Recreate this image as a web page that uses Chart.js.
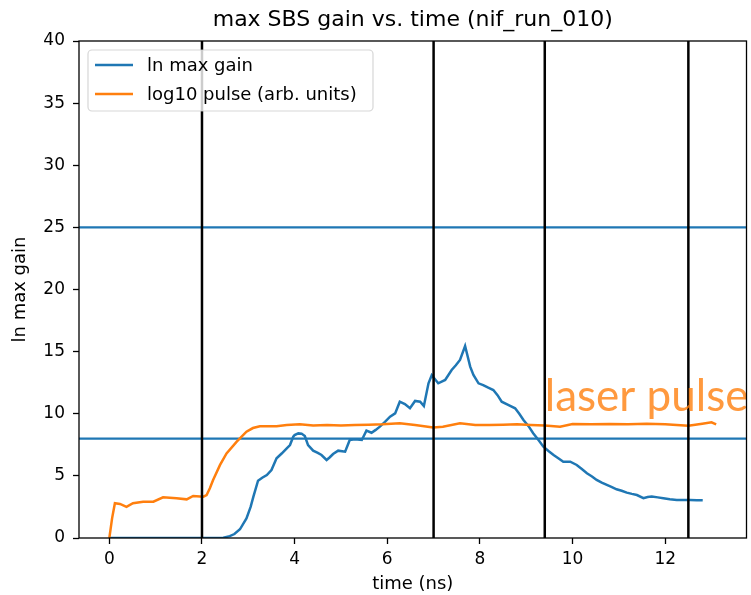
<!DOCTYPE html>
<html>
<head>
<meta charset="utf-8">
<script src="https://cdn.jsdelivr.net/npm/chart.js@4.4.1/dist/chart.umd.min.js"></script>
<style>
  html, body { margin: 0; padding: 0; background: #fff; }
  #wrap { width: 751px; height: 595px; }
</style>
</head>
<body>
<div id="wrap"><canvas id="gainChart" width="751" height="595"></canvas></div>
<script>
// ln max gain trace
const gainTime = [0, 0.5, 1.0, 1.5, 2.0, 2.3, 2.46, 2.6, 2.7, 2.82, 2.96, 3.05, 3.11, 3.21, 3.3, 3.4, 3.5, 3.61, 3.72, 3.83,
    3.9, 3.97, 4.0, 4.08, 4.15, 4.22, 4.29, 4.4, 4.5, 4.58, 4.69, 4.76, 4.83, 4.94, 5.09, 5.19, 5.3, 5.45, 5.55, 5.66,
    5.75, 5.84, 5.95, 6.06, 6.17, 6.27, 6.38, 6.49, 6.6, 6.71, 6.79, 6.89, 6.96, 7.1, 7.25, 7.39, 7.48, 7.57, 7.68, 7.79,
    7.86, 7.97, 8.07, 8.18, 8.29, 8.38, 8.47, 8.62, 8.76, 8.85, 8.94, 9.05, 9.15, 9.26, 9.37, 9.48, 9.59, 9.7, 9.8, 9.95,
    10.09, 10.2, 10.31, 10.42, 10.52, 10.63, 10.74, 10.85, 10.95, 11.06, 11.17, 11.28, 11.39, 11.53, 11.62, 11.71, 11.84, 11.96, 12.1, 12.25,
    12.4, 12.54, 12.68, 12.81];
const gainValue = [0, 0, 0, 0, 0, 0, 0.03, 0.15, 0.32, 0.7, 1.58, 2.5, 3.33, 4.61, 4.85, 5.07, 5.47, 6.41, 6.8, 7.22,
    7.48, 8.15, 8.29, 8.42, 8.4, 8.2, 7.48, 7.03, 6.85, 6.68, 6.28, 6.5, 6.76, 7.03, 6.95, 7.89, 7.94, 7.89, 8.64, 8.47,
    8.7, 8.96, 9.35, 9.76, 10.03, 10.97, 10.78, 10.44, 11.03, 10.97, 10.62, 12.45, 13.1, 12.45, 12.72, 13.52, 13.9, 14.33, 15.45, 13.79,
    13.12, 12.45, 12.31, 12.1, 11.91, 11.5, 10.97, 10.7, 10.44, 10.0, 9.5, 9.0, 8.43, 7.9, 7.35, 7.0, 6.68, 6.4, 6.14, 6.14,
    5.88, 5.55, 5.21, 4.95, 4.67, 4.45, 4.27, 4.1, 3.92, 3.8, 3.65, 3.55, 3.46, 3.2, 3.3, 3.33, 3.27, 3.2, 3.12, 3.06,
    3.06, 3.06, 3.04, 3.03];

// log10 laser pulse, arbitrary units
const pulseTime = [0, 0.06, 0.12, 0.23, 0.37, 0.51, 0.73, 0.95, 1.16, 1.45, 1.67, 1.81, 2.03, 2.1, 2.17, 2.24, 2.39, 2.53, 2.75, 2.96,
    3.1, 3.25, 3.61, 3.83, 4.11, 4.4, 4.7, 5.0, 5.3, 5.6, 5.9, 6.27, 6.6, 6.99, 7.2, 7.57, 7.9, 8.2, 8.5, 8.8,
    9.1, 9.4, 9.73, 10.0, 10.4, 10.8, 11.2, 11.6, 12.0, 12.5, 12.8, 13.0, 13.1];
const pulseValue = [0, 1.6, 2.8, 2.74, 2.5, 2.8, 2.92, 2.92, 3.27, 3.2, 3.11, 3.38, 3.33, 3.46, 4.0, 4.67, 5.88, 6.81, 7.75, 8.56,
    8.85, 9.0, 9.0, 9.1, 9.15, 9.05, 9.1, 9.05, 9.1, 9.12, 9.15, 9.23, 9.1, 8.9, 8.95, 9.23, 9.1, 9.1, 9.12, 9.15,
    9.1, 9.05, 8.96, 9.17, 9.15, 9.18, 9.15, 9.2, 9.15, 9.04, 9.2, 9.31, 9.15];

// reference markers
const hLines = [25, 8];
const vLines = [2, 7, 9.4, 12.5];

const xTicks = [0, 2, 4, 6, 8, 10, 12];
const yTicks = [0, 5, 10, 15, 20, 25, 30, 35, 40];
const xRange = [-0.655, 13.755];
const yRange = [0, 40];

const seriesNames = ['ln max gain', 'log10 pulse (arb. units)'];
const annotation = { x: 9.4, y: 10.2, text: 'laser pulse' };

const BLUE = '#1f77b4';
const ORANGE = '#ff7f0e';
const FONT = '"DejaVu Sans", sans-serif';

function toPoints(xs, ys) {
    return xs.map((x, i) => ({ x: x, y: ys[i] }));
}

const datasets = [];
vLines.forEach(v => datasets.push({
    data: [{ x: v, y: yRange[0] }, { x: v, y: yRange[1] }],
    borderColor: '#000', borderWidth: 2.5, order: 0
}));
datasets.push({ label: seriesNames[1], data: toPoints(pulseTime, pulseValue), borderColor: ORANGE, borderWidth: 2.5, order: 1 });
datasets.push({ label: seriesNames[0], data: toPoints(gainTime, gainValue), borderColor: BLUE, borderWidth: 2.5, order: 2 });
hLines.forEach(h => datasets.push({
    data: [{ x: xRange[0], y: h }, { x: xRange[1], y: h }],
    borderColor: BLUE, borderWidth: 2.2, order: 3
}));

// frame, text label and legend box drawn on top of the plot
const overlay = {
    id: 'overlay',
    afterDatasetsDraw(chart) {
        const { ctx, chartArea: a, scales } = chart;
        ctx.save();

        ctx.font = '44px Lato, sans-serif';
        ctx.fillStyle = 'rgba(255,127,14,0.8)';
        ctx.textBaseline = 'alphabetic';
        ctx.fillText(annotation.text, scales.x.getPixelForValue(annotation.x), scales.y.getPixelForValue(annotation.y));

        ctx.strokeStyle = '#000';
        ctx.lineWidth = 1.3;
        ctx.strokeRect(a.left, a.top, a.right - a.left, a.bottom - a.top);

        // legend
        const bx = a.left + 9, by = a.top + 9, bw = 285, bh = 61;
        ctx.beginPath();
        ctx.roundRect(bx, by, bw, bh, 4);
        ctx.fillStyle = 'rgba(255,255,255,0.8)';
        ctx.fill();
        ctx.strokeStyle = 'rgba(204,204,204,0.8)';
        ctx.lineWidth = 1.2;
        ctx.stroke();

        const colors = [BLUE, ORANGE];
        ctx.font = '18px ' + FONT;
        ctx.textBaseline = 'middle';
        seriesNames.forEach((name, i) => {
            const y = by + 15 + i * 29;
            ctx.beginPath();
            ctx.moveTo(bx + 7, y);
            ctx.lineTo(bx + 45, y);
            ctx.strokeStyle = colors[i];
            ctx.lineWidth = 2.5;
            ctx.stroke();
            ctx.fillStyle = '#000';
            ctx.fillText(name, bx + 59, y + 1);
        });
        ctx.restore();
    }
};

new Chart(document.getElementById('gainChart'), {
    type: 'line',
    data: { datasets: datasets },
    plugins: [overlay],
    options: {
        responsive: false,
        animation: false,
        devicePixelRatio: 1,
        layout: { padding: { left: 0, right: 4.5, top: 0, bottom: 0 } },
        elements: { point: { radius: 0 }, line: { tension: 0, fill: false } },
        plugins: {
            legend: { display: false },
            tooltip: { enabled: false },
            title: {
                display: true,
                fullSize: false,
                text: 'max SBS gain vs. time (nif_run_010)',
                color: '#000',
                font: { family: FONT, size: 22, weight: 'normal' },
                padding: { top: 7, bottom: 7.6 }
            }
        },
        scales: {
            x: {
                type: 'linear',
                min: xRange[0], max: xRange[1],
                afterBuildTicks: s => { s.ticks = xTicks.map(v => ({ value: v })); },
                afterFit: s => { s.height = 57; },
                ticks: { color: '#000', font: { family: FONT, size: 17 }, padding: 5, maxRotation: 0 },
                grid: { drawOnChartArea: false, drawTicks: true, tickLength: 6, tickColor: '#000', tickWidth: 1.3 },
                border: { display: false },
                title: { display: true, text: 'time (ns)', color: '#000', font: { family: FONT, size: 18 }, padding: { top: 2, bottom: 0 } }
            },
            y: {
                type: 'linear',
                min: yRange[0], max: yRange[1],
                afterBuildTicks: s => { s.ticks = yTicks.map(v => ({ value: v })); },
                afterFit: s => { s.width = 79; },
                ticks: { color: '#000', font: { family: FONT, size: 17 }, padding: 8 },
                grid: { drawOnChartArea: false, drawTicks: true, tickLength: 6, tickColor: '#000', tickWidth: 1.3 },
                border: { display: false },
                title: { display: true, text: 'ln max gain', color: '#000', font: { family: FONT, size: 18 }, padding: { top: 10, bottom: 0 } }
            }
        }
    }
});
</script>
</body>
</html>
